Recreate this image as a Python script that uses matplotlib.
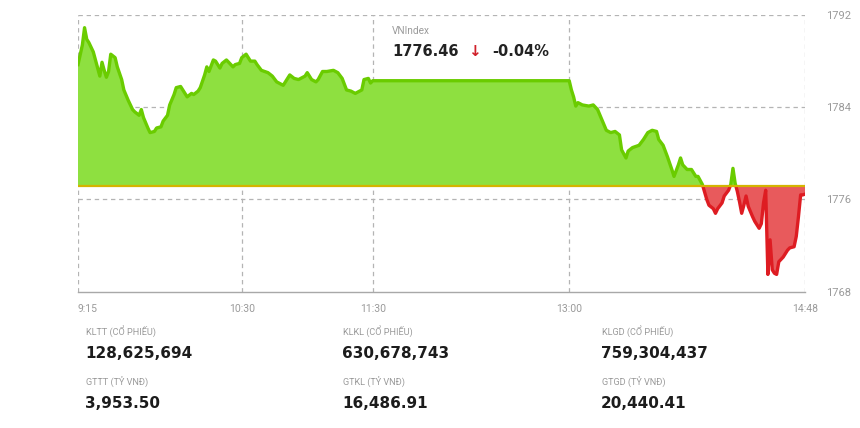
import matplotlib.pyplot as plt
import numpy as np
from matplotlib.patches import Rectangle

# intraday VNIndex points (time, value)
TIMES = [
    "9:15", "9:17", "9:18", "9:19", "9:20", "9:22", "9:24", "9:25", "9:26", "9:27",
    "9:28", "9:29", "9:30", "9:32", "9:33", "9:35", "9:36", "9:38", "9:40", "9:41",
    "9:43", "9:44", "9:45", "9:47", "9:48", "9:50", "9:51", "9:53", "9:54", "9:56",
    "9:57", "9:59", "10:00", "10:02", "10:04", "10:05", "10:07", "10:08", "10:10", "10:11",
    "10:13", "10:14", "10:15", "10:17", "10:18", "10:20", "10:21", "10:23", "10:26", "10:27",
    "10:29", "10:30", "10:32", "10:34", "10:36", "10:37", "10:39", "10:42", "10:44", "10:46",
    "10:49", "10:50", "10:52", "10:54", "10:56", "10:59", "11:00", "11:02", "11:04", "11:05",
    "11:07", "11:09", "11:12", "11:14", "11:16", "11:18", "11:20", "11:22", "11:25", "11:26",
    "11:28", "11:29", "11:30",
    "13:00", "13:01", "13:02", "13:03", "13:04", "13:06", "13:09", "13:11", "13:13", "13:15",
    "13:17", "13:19", "13:21", "13:23", "13:24", "13:26", "13:27", "13:29", "13:32", "13:34",
    "13:36", "13:38", "13:40", "13:41", "13:43", "13:45", "13:47", "13:48", "13:50", "13:51",
    "13:52", "13:54", "13:56", "13:58", "13:59", "14:01", "14:03", "14:04", "14:06", "14:07",
    "14:08", "14:10", "14:11", "14:13", "14:14", "14:15", "14:16", "14:17", "14:18", "14:19",
    "14:20", "14:21", "14:22", "14:24", "14:25", "14:27", "14:28", "14:29", "14:30", "14:31",
    "14:32", "14:33", "14:34", "14:35", "14:36", "14:37", "14:38", "14:40", "14:41", "14:43",
    "14:44", "14:45", "14:46", "14:47", "14:48",
]
VALUES = [
    1787.7, 1789.4, 1790.9, 1789.9, 1789.6, 1788.8, 1787.4, 1786.7, 1787.9, 1787.2,
    1786.6, 1787.1, 1788.6, 1788.3, 1787.5, 1786.4, 1785.5, 1784.6, 1783.8, 1783.6,
    1783.3, 1783.8, 1783.1, 1782.2, 1781.8, 1781.9, 1782.2, 1782.3, 1782.8, 1783.3,
    1784.2, 1785.1, 1785.7, 1785.8, 1785.2, 1784.9, 1785.2, 1785.1, 1785.4, 1785.7,
    1786.8, 1787.5, 1787.1, 1788.1, 1788.0, 1787.4, 1787.8, 1788.1, 1787.5, 1787.7,
    1787.8, 1788.3, 1788.6, 1788.0, 1788.0, 1787.7, 1787.2, 1787.0, 1786.7, 1786.2,
    1785.9, 1786.2, 1786.8, 1786.5, 1786.4, 1786.7, 1787.0, 1786.4, 1786.2, 1786.4,
    1787.1, 1787.1, 1787.2, 1787.0, 1786.5, 1785.5, 1785.4, 1785.2, 1785.5, 1786.4,
    1786.5, 1786.1, 1786.3,
    1786.3, 1785.5, 1784.9, 1784.1, 1784.4, 1784.2, 1784.1, 1784.2, 1783.8, 1782.9,
    1782.0, 1781.8, 1781.9, 1781.6, 1780.3, 1779.6, 1780.2, 1780.5, 1780.7, 1781.2,
    1781.8, 1782.0, 1781.9, 1781.2, 1780.7, 1779.7, 1778.6, 1778.0, 1779.0, 1779.6,
    1779.0, 1778.6, 1778.6, 1778.0, 1778.0, 1777.3, 1776.0, 1775.5, 1775.2, 1774.8,
    1775.2, 1775.7, 1776.3, 1776.8, 1777.3, 1778.7, 1777.4, 1776.7, 1775.8, 1774.8,
    1775.5, 1776.3, 1775.4, 1774.5, 1774.1, 1773.5, 1773.9, 1775.7, 1776.8, 1769.5,
    1772.5, 1769.9, 1769.6, 1769.5, 1770.6, 1770.8, 1771.0, 1771.6, 1771.8, 1771.9,
    1772.8, 1774.5, 1776.4, 1776.4, 1776.46,
]
REFERENCE = 1777.17

X_TICKS = ["9:15", "10:30", "11:30", "13:00", "14:48"]
Y_TICKS = [1768, 1776, 1784, 1792]

INDEX_NAME = "VNIndex"
LAST_VALUE = "1776.46"
CHANGE_PCT = "-0.04%"

STAT_LABELS = ["KLTT (CỔ PHIẾU)", "GTTT (TỶ VNĐ)", "KLKL (CỔ PHIẾU)",
               "GTKL (TỶ VNĐ)", "KLGD (CỔ PHIẾU)", "GTGD (TỶ VNĐ)"]
STAT_VALUES = ["128,625,694", "3,953.50", "630,678,743",
               "16,486.91", "759,304,437", "20,440.41"]

GREEN_FILL = "#8ee040"
GREEN_LINE = "#6acc00"
RED_FILL = "#e85a5c"
RED_LINE = "#de1c22"
BASE_COLOR = "#d4b400"
GRID_COLOR = "#b4b4b4"
LABEL_GRAY = "#9a9a9a"
SMALL_FONT = ["Roboto", "DejaVu Sans"]


def to_minutes(label):
    h, m = label.split(":")
    return (int(h) - 9) * 60 + int(m) - 15


t = np.array([to_minutes(s) for s in TIMES], dtype=float)
v = np.array(VALUES)
x_end = to_minutes(X_TICKS[-1])

fig = plt.figure(figsize=(8.6, 4.28), dpi=100)
ax = fig.add_axes([78 / 860, 1 - 291.7 / 428, (805 - 78) / 860, (291.7 - 15) / 428])
ax.set_xlim(0, x_end)
ax.set_ylim(Y_TICKS[0], Y_TICKS[-1])

ax.fill_between(t, v, REFERENCE, where=v >= REFERENCE, interpolate=True,
                color=GREEN_FILL, lw=0, zorder=2)
ax.fill_between(t, v, REFERENCE, where=v <= REFERENCE, interpolate=True,
                color=RED_FILL, lw=0, zorder=2)

up_clip = Rectangle((0, REFERENCE), x_end, 40, transform=ax.transData)
down_clip = Rectangle((0, REFERENCE - 40), x_end, 40, transform=ax.transData)
(green_line,) = ax.plot(t, v, color=GREEN_LINE, lw=2.4, solid_joinstyle="round", zorder=3)
green_line.set_clip_path(up_clip)
(red_line,) = ax.plot(t, v, color=RED_LINE, lw=2.4, solid_joinstyle="round", zorder=3)
red_line.set_clip_path(down_clip)

ax.axhline(REFERENCE, color=BASE_COLOR, lw=1.6, zorder=4)

# dashed grid + frame
dash = (0, (3.5, 3))
for yv in Y_TICKS[1:]:
    ax.axhline(yv, color=GRID_COLOR, lw=0.9, ls=dash, zorder=1)
for xl in X_TICKS:
    ax.axvline(to_minutes(xl), color=GRID_COLOR, lw=0.9, ls=dash, zorder=1)
for side in ["top", "left", "right"]:
    ax.spines[side].set_visible(False)
ax.spines["bottom"].set_color("#a8a8a8")
ax.spines["bottom"].set_linewidth(1.0)

ax.set_xticks([to_minutes(s) for s in X_TICKS])
ax.set_xticklabels(X_TICKS)
ax.tick_params(axis="x", length=0, pad=9, labelsize=7.5, labelcolor=LABEL_GRAY)
ax.get_xticklabels()[0].set_horizontalalignment("left")
for lab in ax.get_xticklabels():
    lab.set_family(SMALL_FONT)

ax.yaxis.tick_right()
ax.set_yticks(Y_TICKS)
ax.tick_params(axis="y", length=0, pad=15, labelsize=8, labelcolor=LABEL_GRAY)
for lab in ax.get_yticklabels():
    lab.set_family(SMALL_FONT)

# header inside chart
fig.text(392 / 860, 1 - 31 / 428, INDEX_NAME, fontsize=7.2, color=LABEL_GRAY,
         family=SMALL_FONT, va="center", ha="left")
fig.text(392 / 860, 1 - 51 / 428, LAST_VALUE, fontsize=10.5, color="#222222",
         fontweight="bold", va="center", ha="left")
fig.text(474 / 860, 1 - 51 / 428, "\u2193", fontsize=11, color="#d0202a",
         fontweight="bold", va="center", ha="center")
fig.text(492 / 860, 1 - 51 / 428, CHANGE_PCT, fontsize=10.5, color="#222222",
         fontweight="bold", va="center", ha="left")

# stats block
col_x = [86, 343, 602]
for i, (lab, val) in enumerate(zip(STAT_LABELS, STAT_VALUES)):
    cx = col_x[i // 2]
    ly = 332 if i % 2 == 0 else 382
    fig.text(cx / 860, 1 - ly / 428, lab, fontsize=6.6, color=LABEL_GRAY,
             family=SMALL_FONT, va="center", ha="left")
    fig.text((cx - 1) / 860, 1 - (ly + 22) / 428, val, fontsize=11, color="#1c1c1c",
             fontweight="bold", va="center", ha="left")

fig.savefig("out.png", dpi=100)
